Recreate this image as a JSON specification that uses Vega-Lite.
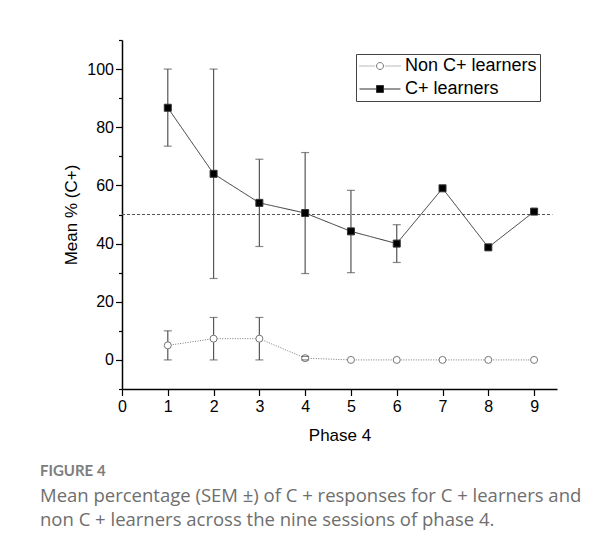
{
  "$schema": "https://vega.github.io/schema/vega-lite/v6.json",
  "description": "Mean % C+ responses by session of phase 4",
  "width": 435,
  "height": 349,
  "autosize": "none",
  "padding": {"left": 122, "top": 40, "right": 57, "bottom": 167},
  "config": {
    "view": {"stroke": null},
    "font": "Liberation Sans",
    "axis": {
      "domainColor": "#000",
      "domainWidth": 1.5,
      "tickColor": "#000",
      "tickWidth": 1.2,
      "labelColor": "#000",
      "labelFont": "Liberation Sans",
      "labelFontSize": 16,
      "titleFont": "Liberation Sans",
      "titleFontSize": 17,
      "titleFontWeight": "normal",
      "titleColor": "#000",
      "grid": false,
      "labelFlush": false,
      "labelOverlap": false
    }
  },
  "title": {
    "text": "FIGURE 4",
    "subtitle": [
      "Mean percentage (SEM \u00b1) of C + responses for C + learners and",
      "non C + learners across the nine sessions of phase 4."
    ],
    "orient": "bottom",
    "anchor": "start",
    "frame": "group",
    "dx": -82,
    "offset": 20,
    "font": "Lato",
    "fontSize": 15,
    "fontWeight": "bold",
    "color": "#7d7d7d",
    "subtitleFont": "Open Sans",
    "subtitleFontSize": 18.5,
    "subtitleColor": "#6e6e6e",
    "subtitleLineHeight": 24,
    "subtitlePadding": 8
  },
  "datasets": {
    "pts": [
      {"phase": 1, "group": "C+ learners", "mean": 86.7, "lo": 73.5, "hi": 100},
      {"phase": 2, "group": "C+ learners", "mean": 64.0, "lo": 28.0, "hi": 100},
      {"phase": 3, "group": "C+ learners", "mean": 54.0, "lo": 39.0, "hi": 69.0},
      {"phase": 4, "group": "C+ learners", "mean": 50.5, "lo": 29.7, "hi": 71.3},
      {"phase": 5, "group": "C+ learners", "mean": 44.2, "lo": 30.0, "hi": 58.3},
      {"phase": 6, "group": "C+ learners", "mean": 40.0, "lo": 33.5, "hi": 46.5},
      {"phase": 7, "group": "C+ learners", "mean": 59.0, "lo": null, "hi": null},
      {"phase": 8, "group": "C+ learners", "mean": 38.7, "lo": null, "hi": null},
      {"phase": 9, "group": "C+ learners", "mean": 51.0, "lo": null, "hi": null},
      {"phase": 1, "group": "Non C+ learners", "mean": 5.0, "lo": 0, "hi": 10.0},
      {"phase": 2, "group": "Non C+ learners", "mean": 7.3, "lo": 0, "hi": 14.6},
      {"phase": 3, "group": "Non C+ learners", "mean": 7.3, "lo": 0, "hi": 14.6},
      {"phase": 4, "group": "Non C+ learners", "mean": 0.6, "lo": 0, "hi": 1.2},
      {"phase": 5, "group": "Non C+ learners", "mean": 0, "lo": null, "hi": null},
      {"phase": 6, "group": "Non C+ learners", "mean": 0, "lo": null, "hi": null},
      {"phase": 7, "group": "Non C+ learners", "mean": 0, "lo": null, "hi": null},
      {"phase": 8, "group": "Non C+ learners", "mean": 0, "lo": null, "hi": null},
      {"phase": 9, "group": "Non C+ learners", "mean": 0, "lo": null, "hi": null}
    ],
    "ref": [{"x": 0, "x2": 9.4, "y": 50}]
  },
  "encoding": {
    "x": {
      "field": "phase",
      "type": "quantitative",
      "title": "Phase 4",
      "scale": {"domain": [0, 9.5], "nice": false, "zero": false},
      "axis": {
        "values": [0, 0.5, 1, 1.5, 2, 2.5, 3, 3.5, 4, 4.5, 5, 5.5, 6, 6.5, 7, 7.5, 8, 8.5, 9, 9.5],
        "format": "d",
        "labelExpr": "datum.value % 1 === 0 ? datum.label : ''",
        "tickSize": {"condition": {"test": "datum.value % 1 === 0", "value": 6.5}, "value": 3.5},
        "labelPadding": 3,
        "titlePadding": 13
      }
    },
    "y": {
      "type": "quantitative",
      "scale": {"domain": [-10, 110], "nice": false, "zero": false},
      "axis": {
        "title": "Mean % (C+)",
        "values": [-10, 0, 10, 20, 30, 40, 50, 60, 70, 80, 90, 100, 110],
        "labelExpr": "datum.value % 20 === 0 && datum.value >= 0 && datum.value <= 100 ? datum.label : ''",
        "tickSize": {"condition": {"test": "datum.value % 20 === 0", "value": 6.5}, "value": 3.5},
        "labelPadding": 2,
        "titlePadding": 6
      }
    }
  },
  "layer": [
    {
      "data": {"name": "ref"},
      "mark": {"type": "rule", "color": "#555", "strokeDash": [3, 2], "strokeWidth": 1},
      "encoding": {
        "x": {"field": "x", "type": "quantitative"},
        "x2": {"field": "x2"},
        "y": {"field": "y", "type": "quantitative"}
      }
    },
    {
      "data": {"name": "pts"},
      "transform": [{"filter": "isValid(datum.lo)"}],
      "mark": {"type": "rule", "color": "#555", "strokeWidth": 1.2},
      "encoding": {
        "y": {"field": "lo", "type": "quantitative"},
        "y2": {"field": "hi"}
      }
    },
    {
      "data": {"name": "pts"},
      "mark": {"type": "line", "strokeWidth": 1},
      "encoding": {
        "y": {"field": "mean", "type": "quantitative"},
        "stroke": {
          "field": "group",
          "type": "nominal",
          "scale": {"domain": ["Non C+ learners", "C+ learners"], "range": ["#777777", "#333333"]},
          "legend": {
            "title": null,
            "orient": "none",
            "legendX": 234,
            "legendY": 14,
            "strokeColor": "#444",
            "padding": 3,
            "labelFont": "Liberation Sans",
            "labelFontSize": 18,
            "labelColor": "#000",
            "symbolSize": 289,
            "symbolStrokeWidth": 1,
            "symbolOffset": 12,
            "labelOffset": 16,
            "rowPadding": 5,
            "encode": {
              "symbols": {
                "update": {
                  "shape": [
                    {
                      "test": "datum.value === 'C+ learners'",
                      "value": "M-2.41,0H-0.41M0.41,0H2.41M-0.41,-0.41H0.41V0.41H-0.41Z"
                    },
                    {
                      "value": "M-2.41,0h0.12M-2.17,0h0.12M-1.94,0h0.12M-1.7,0h0.12M-1.47,0h0.12M-1.23,0h0.12M-1.0,0h0.12M-0.76,0h0.12M0.64,0h0.12M0.88,0h0.12M1.11,0h0.12M1.35,0h0.12M1.58,0h0.12M1.82,0h0.12M2.05,0h0.12M2.29,0h0.12M-0.41,0a0.41,0.41 0 1,0 0.82,0a0.41,0.41 0 1,0 -0.82,0"
                    }
                  ],
                  "fill": [
                    {"test": "datum.value === 'C+ learners'", "value": "#000"},
                    {"value": "#fff"}
                  ],
                  "strokeDash": {"value": []},
                  "opacity": {"value": 1}
                }
              }
            }
          }
        },
        "strokeDash": {
          "condition": {"test": "datum.group === 'Non C+ learners'", "value": [1, 1.5]},
          "value": [1, 0]
        }
      }
    },
    {
      "data": {"name": "pts"},
      "mark": {"type": "point", "filled": false, "size": 49, "strokeWidth": 1, "opacity": 1},
      "encoding": {
        "y": {"field": "mean", "type": "quantitative"},
        "shape": {
          "condition": {"test": "datum.group === 'C+ learners'", "value": "square"},
          "value": "circle"
        },
        "fill": {
          "condition": {"test": "datum.group === 'C+ learners'", "value": "#000"},
          "value": "#fff"
        },
        "stroke": {"field": "group", "type": "nominal"}
      }
    },
    {
      "data": {"name": "pts"},
      "transform": [{"filter": "isValid(datum.lo)"}],
      "mark": {"type": "tick", "orient": "horizontal", "color": "#555", "size": 8, "thickness": 1.2},
      "encoding": {"y": {"field": "lo", "type": "quantitative"}}
    },
    {
      "data": {"name": "pts"},
      "transform": [{"filter": "isValid(datum.hi)"}],
      "mark": {"type": "tick", "orient": "horizontal", "color": "#555", "size": 8, "thickness": 1.2},
      "encoding": {"y": {"field": "hi", "type": "quantitative"}}
    }
  ]
}
